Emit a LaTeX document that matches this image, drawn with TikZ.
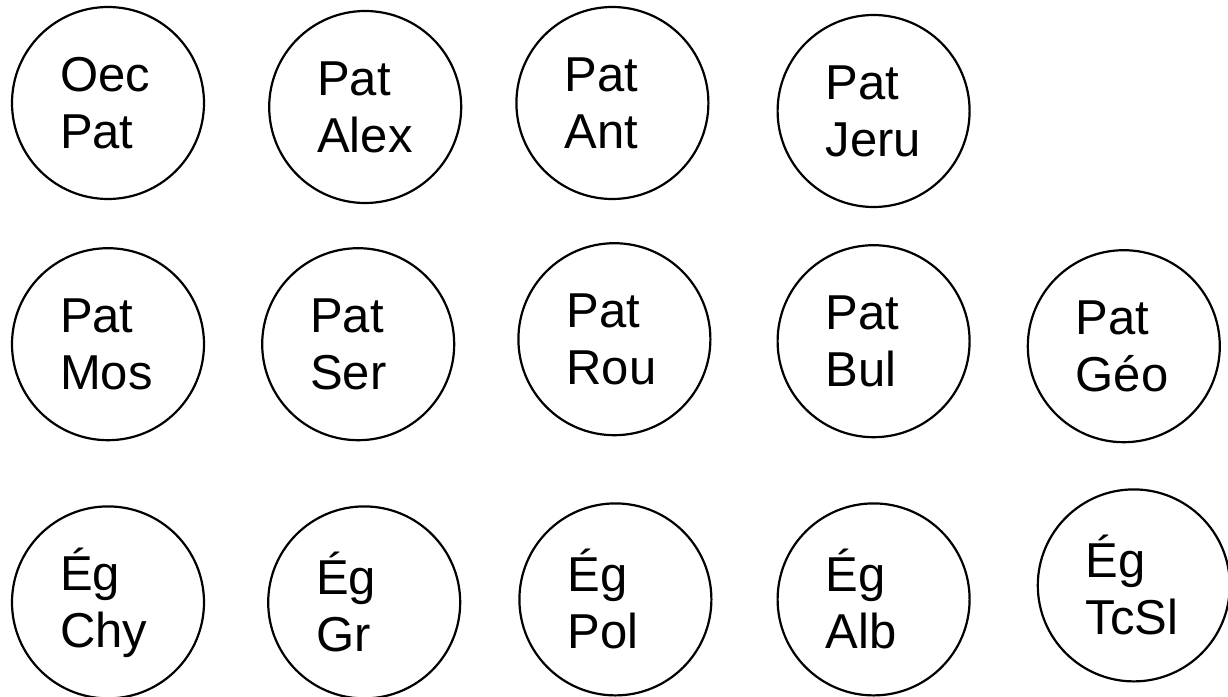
\documentclass[tikz,border=0pt]{standalone}
\usepackage{fontspec}
\setmainfont{Liberation Sans}
\usetikzlibrary{
    positioning
}

\begin{document}
\begin{tikzpicture}[
    x=1pt,
    y=1pt,
    church/.style={
        circle,
        draw,
        line width=2.2pt,
        minimum size=192pt,
        inner sep=0pt,
        text width=96pt,
        align=left,
        font=\fontsize{49pt}{57pt}\selectfont
    }
]
\useasboundingbox (0,0) rectangle (1228,-696);

%--------------------------------------------------
% Patriarchates
\node[church] (oecpat) at (108,-103)
{
Oec\\
Pat
};

\node[church,right=63pt of oecpat,yshift=-4pt] (patalex)
{
Pat\\
Alex
};

\node[church,right=53pt of patalex,yshift=4pt] (patant)
{
Pat\\
Ant
};

\node[church,right=67pt of patant,yshift=-8pt] (patjeru)
{
Pat\\
Jeru
};

%--------------------------------------------------
\node[church,below=47pt of oecpat] (patmos)
{
Pat\\
Mos
};

\node[church,right=56pt of patmos] (patser)
{
Pat\\
Ser
};

\node[church,right=62pt of patser,yshift=5pt] (patrou)
{
Pat\\
Rou
};

\node[church,right=65pt of patrou,yshift=-2pt] (patbul)
{
Pat\\
Bul
};

\node[church,right=56pt of patbul,yshift=-5pt] (patgeo)
{
Pat\\
Géo
};

%--------------------------------------------------
% Autocephalous churches
\node[church,below=64pt of patmos] (egchy)
{
Ég\\
Chy
};

\node[church,right=62pt of egchy] (eggr)
{
Ég\\
Gr
};

\node[church,right=57pt of eggr,yshift=3pt] (egpol)
{
Ég\\
Pol
};

\node[church,right=64pt of egpol] (egalb)
{
Ég\\
Alb
};

\node[church,right=66pt of egalb,yshift=14pt] (egtcsl)
{
Ég\\
TcSl
};

\end{tikzpicture}
\end{document}
